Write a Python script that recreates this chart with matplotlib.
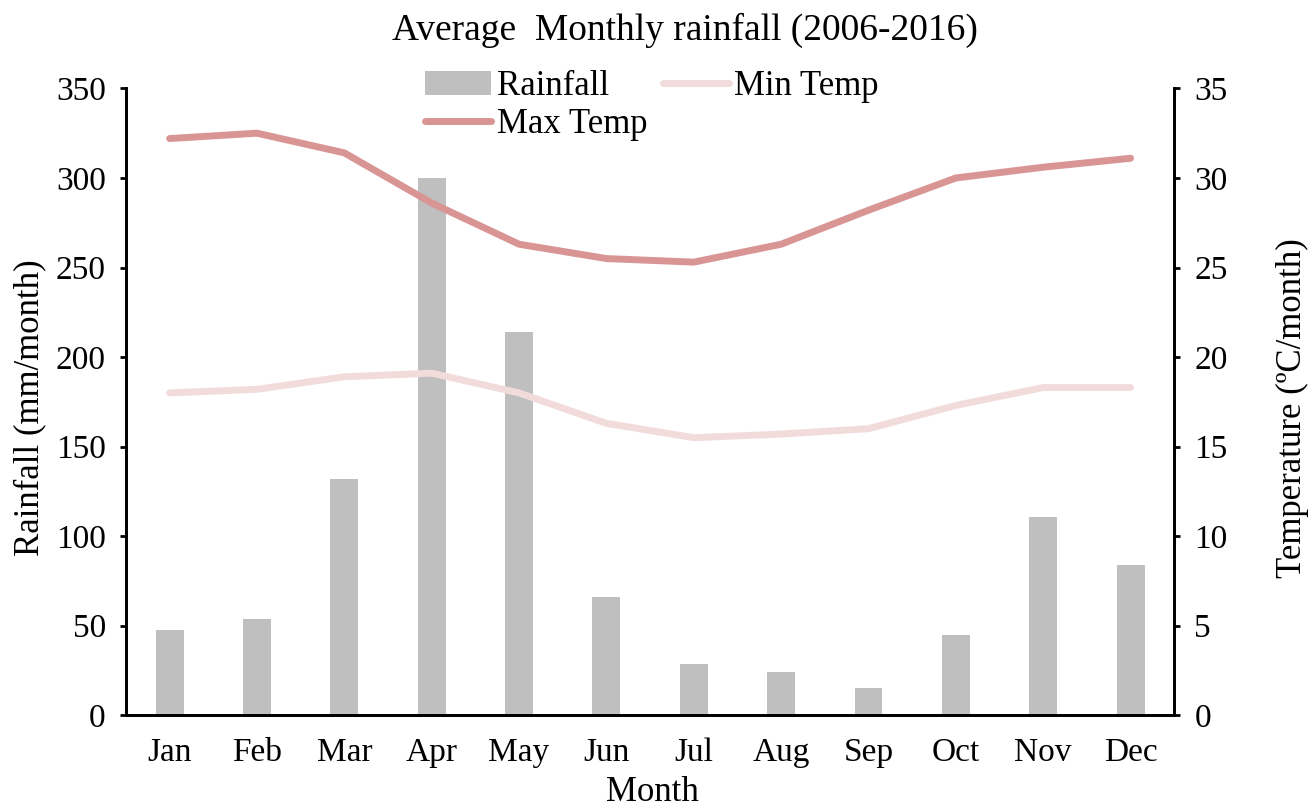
import numpy as np
import matplotlib.pyplot as plt

plt.rcParams['font.family'] = ['Liberation Serif', 'DejaVu Serif']

months = ['Jan', 'Feb', 'Mar', 'Apr', 'May', 'Jun', 'Jul', 'Aug', 'Sep', 'Oct', 'Nov', 'Dec']
rainfall = [47.5, 53.6, 131.7, 299.8, 213.8, 65.9, 28.5, 24.0, 15.0, 45.0, 110.5, 84.0]
max_temp = [32.2, 32.5, 31.4, 28.6, 26.3, 25.5, 25.3, 26.3, 28.2, 30.0, 30.6, 31.1]
min_temp = [18.0, 18.2, 18.9, 19.1, 18.0, 16.3, 15.5, 15.7, 16.0, 17.3, 18.3, 18.3]

fig = plt.figure(figsize=(13.12, 8.11), dpi=100)
ax = fig.add_axes([0.096, 0.118, 0.799, 0.773])
ax2 = ax.twinx()

x = np.arange(len(months))
bars = ax.bar(x, rainfall, width=0.32, color='#bfbfbf', label='Rainfall', zorder=1)
l_max, = ax2.plot(x, max_temp, color='#d99594', lw=5, solid_capstyle='round', label='Max Temp')
l_min, = ax2.plot(x, min_temp, color='#f2dcdb', lw=5, solid_capstyle='round', label='Min Temp')

ax.set_xlim(-0.5, 11.5)
ax.set_ylim(0, 350)
ax.set_yticks(range(0, 351, 50))
ax2.set_ylim(0, 35)
ax2.set_yticks(range(0, 36, 5))
ax.set_xticks(x)
ax.set_xticklabels(months)

for a in (ax, ax2):
    a.spines['top'].set_visible(False)
    for s in ('left', 'right', 'bottom'):
        a.spines[s].set_linewidth(2)
    a.tick_params(labelsize=24, width=2, length=4.5)
ax.tick_params(axis='x', length=0, pad=16)
ax.tick_params(axis='y', pad=10)
ax2.tick_params(axis='y', pad=10)

# axis labels and title placed in figure coords
fig.text(0.522, 0.963, 'Average  Monthly rainfall (2006-2016)', fontsize=27, ha='center', va='center')
fig.text(0.497, 0.012, 'Month', fontsize=25, ha='center', va='baseline')
fig.text(0.023, 0.497, 'Rainfall (mm/month)', fontsize=25, rotation=90, ha='center', va='center')
fig.text(0.985, 0.497, 'Temperature (ºC/month)', fontsize=25, rotation=90, ha='center', va='center')

fig.legend([bars, l_max, l_min], ['Rainfall', 'Max Temp', 'Min Temp'],
           loc='upper left', bbox_to_anchor=(0.311, 0.935), ncol=2, frameon=False,
           fontsize=25, handlelength=1.9, columnspacing=0.45, handletextpad=0.15,
           labelspacing=0.15, borderpad=0)

fig.savefig('out.png', dpi=100)
